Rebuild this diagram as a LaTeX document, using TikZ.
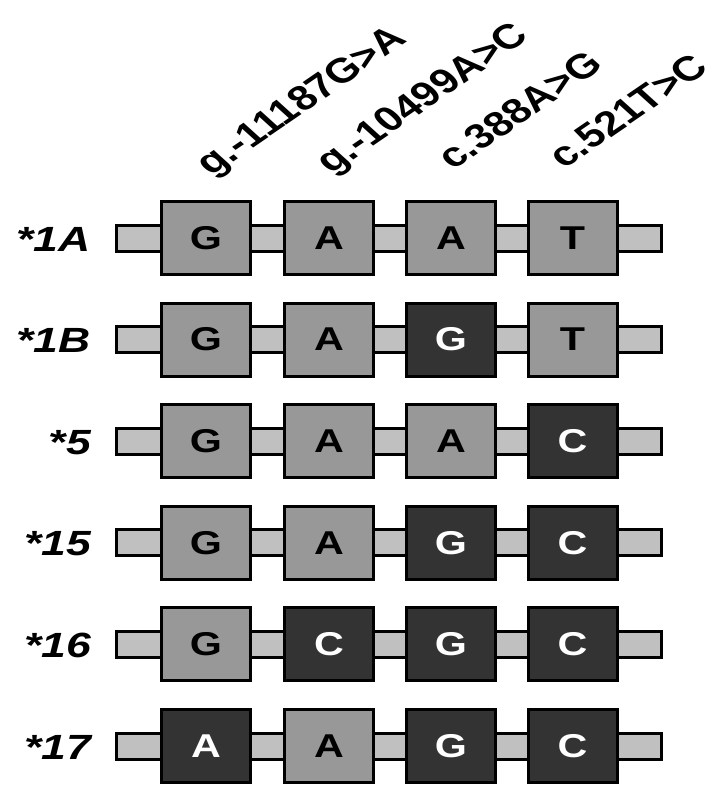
\documentclass[tikz,border=0pt]{standalone}
\usepackage{fontspec}
\setmainfont{Liberation Sans}
\definecolor{barfill}{HTML}{C0C0C0}
\definecolor{midfill}{HTML}{989898}
\definecolor{darkfill}{HTML}{333333}
\newcommand{\wide}[1]{\scalebox{1.25}[1]{#1}}
\begin{document}
\begin{tikzpicture}[x=1pt,y=-1pt,
  barbox/.style={draw=black,line width=3pt,fill=barfill,minimum width=545pt,minimum height=26pt,inner sep=0pt},
  snpbox/.style={draw=black,line width=3pt,minimum width=89pt,minimum height=73pt,inner sep=0pt,
     font=\fontsize{33}{33}\selectfont\bfseries},
  mid/.style={snpbox,fill=midfill,text=black},
  dark/.style={snpbox,fill=darkfill,text=white},
  rowlabel/.style={anchor=base east,inner sep=0pt,font=\fontsize{35}{35}\selectfont\bfseries\itshape,xscale=1.27},
  header/.style={anchor=base west,inner sep=0pt,font=\fontsize{34.5}{34.5}\selectfont\bfseries,xscale=1.27,rotate=41}]
\useasboundingbox (0,0) rectangle (721,787);
% headers
\node[header] (h1) at (211,177) {g.-11187G>A};
\node[header] (h2) at (331,175) {g.-10499A>C};
\node[header] (h3) at (453,171) {c.388A>G};
\node[header] (h4) at (564,170) {c.521T>C};
% rows
\foreach \i/\lab/\ta/\tb/\tc/\td/\sa/\sb/\sc/\sd in {
  1/*1A/G/A/A/T/mid/mid/mid/mid,
  2/*1B/G/A/G/T/mid/mid/dark/mid,
  3/*5/G/A/A/C/mid/mid/mid/dark,
  4/*15/G/A/G/C/mid/mid/dark/dark,
  5/*16/G/C/G/C/mid/dark/dark/dark,
  6/*17/A/A/G/C/dark/mid/dark/dark}{
  \pgfmathsetmacro{\yc}{238+101.6*(\i-1)}
  \node[rowlabel] (lab\i) at (91,\yc+13) {\lab};
  \node[barbox] (bar\i) at (389,\yc) {};
  \node[\sa] (b\i a) at (206,\yc) {\wide{\ta}};
  \node[\sb] (b\i b) at (329,\yc) {\wide{\tb}};
  \node[\sc] (b\i c) at (451,\yc) {\wide{\tc}};
  \node[\sd] (b\i d) at (572.5,\yc) {\wide{\td}};
}
\end{tikzpicture}
\end{document}
